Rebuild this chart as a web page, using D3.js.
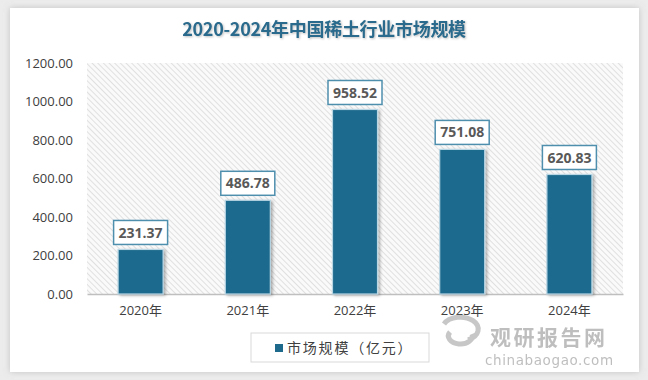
<!DOCTYPE html>
<html><head><meta charset="utf-8">
<script src="https://cdn.jsdelivr.net/npm/d3@7"></script>
<style>body{margin:0;background:#fff;}svg{display:block;}</style>
</head><body>
<script>
const categories = ["2020年","2021年","2022年","2023年","2024年"];
const values = [231.37, 486.78, 958.52, 751.08, 620.83];
const yTicks = [0, 200, 400, 600, 800, 1000, 1200];
const title = "2020-2024年中国稀土行业市场规模";
const seriesName = "市场规模（亿元）";

const W = 648, H = 380;
const svg = d3.select("body").append("svg").attr("width", W).attr("height", H);
const defs = svg.append("defs");

svg.append("rect").attr("width",W).attr("height",H).attr("fill","#ececec");
const sh = defs.append("filter").attr("id","cardShadow").attr("x","-5%").attr("y","-5%").attr("width","110%").attr("height","110%");
sh.append("feDropShadow").attr("dx",0).attr("dy",0).attr("stdDeviation",3).attr("flood-color","#999").attr("flood-opacity",0.5);
svg.append("rect").attr("x",10).attr("y",8).attr("width",629).attr("height",364).attr("fill","#fff").attr("filter","url(#cardShadow)");

// hatch pattern
const pat = defs.append("pattern").attr("id","hatch").attr("patternUnits","userSpaceOnUse")
  .attr("width",4).attr("height",4).attr("patternTransform","rotate(-45)");
pat.append("rect").attr("width",4).attr("height",4).attr("fill","#fafafa");
pat.append("line").attr("x1",0).attr("y1",0).attr("x2",0).attr("y2",4).attr("stroke","#d6d6d6").attr("stroke-width",1.4);

const barShadow = defs.append("filter").attr("id","barShadow").attr("x","-20%").attr("y","-10%").attr("width","140%").attr("height","120%");
barShadow.append("feDropShadow").attr("dx",2).attr("dy",1).attr("stdDeviation",1.5).attr("flood-color","#000").attr("flood-opacity",0.3);

const plot = {l:87, r:623, t:63, b:294};
const x = d3.scaleBand().domain(categories).range([plot.l, plot.r]).paddingInner(0.58).paddingOuter(0.29);
const y = d3.scaleLinear().domain([0,1200]).range([plot.b, plot.t]);

svg.append("rect").attr("x",plot.l).attr("y",plot.t).attr("width",plot.r-plot.l).attr("height",plot.b-plot.t).attr("fill","url(#hatch)");

// title
svg.append("text").attr("x",324).attr("y",36).attr("text-anchor","middle")
  .attr("font-family","'Noto Sans CJK SC', 'Liberation Serif', serif").attr("font-weight","bold")
  .attr("font-size",18).attr("fill","#2a6a8c").attr("letter-spacing","-0.3")
  .style("filter","drop-shadow(1px 1px 1px rgba(0,0,0,0.25))").text(title);

// y axis
const yAxis = svg.append("g").attr("transform",`translate(${plot.l},0)`)
  .call(d3.axisLeft(y).tickValues(yTicks).tickSize(0).tickPadding(14).tickFormat(d3.format(".2f")));
yAxis.select(".domain").remove();
yAxis.selectAll("text").attr("font-family","'Open Sans', 'DejaVu Sans', sans-serif").attr("font-size",13).attr("fill","#404040");

// x axis
const xAxis = svg.append("g").attr("transform",`translate(0,${plot.b})`)
  .call(d3.axisBottom(x).tickSize(0).tickPadding(12));
xAxis.select(".domain").attr("stroke","#bfbfbf").attr("stroke-width",1.5);
xAxis.selectAll("text").attr("font-family","'Open Sans', 'Noto Sans CJK SC', sans-serif").attr("font-size",13).attr("fill","#404040");

// bars
svg.append("g").selectAll("rect").data(values).join("rect")
  .attr("x",(d,i)=>x(categories[i])).attr("width",x.bandwidth())
  .attr("y",d=>y(d)).attr("height",d=>plot.b-y(d))
  .attr("fill","#1d6a8d").attr("stroke","#b8d6e4").attr("stroke-width",1.2)
  .attr("filter","url(#barShadow)");

// labels
const lg = svg.append("g").selectAll("g").data(values).join("g")
  .attr("transform",(d,i)=>`translate(${x(categories[i])+x.bandwidth()/2},${y(d)-17})`);
lg.append("rect").attr("x",-27).attr("y",-12).attr("width",54).attr("height",24)
  .attr("fill","#fff").attr("stroke","#4e8fae").attr("stroke-width",1.5);
lg.append("text").attr("text-anchor","middle").attr("dy","0.36em")
  .attr("font-family","'Open Sans', 'DejaVu Sans', sans-serif").attr("font-weight","bold")
  .attr("font-size",14).attr("fill","#595959").text(d=>d3.format(".2f")(d));

// legend
svg.append("rect").attr("x",251).attr("y",333).attr("width",178).attr("height",29)
  .attr("fill","#fff").attr("stroke","#d9d9d9");
svg.append("rect").attr("x",275).attr("y",344).attr("width",8).attr("height",8).attr("fill","#1d6a8d");
svg.append("text").attr("x",287).attr("y",348).attr("dy","0.36em")
  .attr("font-family","'Noto Sans CJK SC', sans-serif").attr("font-size",14).attr("fill","#404040")
  .attr("letter-spacing","1.8").text(seriesName);

// watermark
const wm = svg.append("g").attr("opacity",0.55);
wm.append("path").attr("d","M 444 324 A 18 12 0 1 1 468 340 M 450 332 A 12 8 0 1 0 472 334")
  .attr("fill","none").attr("stroke","#9a9a9a").attr("stroke-width",5);
wm.append("text").attr("x",490).attr("y",345).attr("font-family","'Noto Sans CJK SC', sans-serif")
  .attr("font-weight","bold").attr("font-size",21).attr("fill","#8a8a8a").attr("letter-spacing","2.5").text("观研报告网");
wm.append("text").attr("x",485).attr("y",365).attr("font-family","'DejaVu Sans', sans-serif")
  .attr("font-size",13.5).attr("fill","#8a8a8a").attr("letter-spacing","0.6").text("chinabaogao.com");
</script>
</body></html>
